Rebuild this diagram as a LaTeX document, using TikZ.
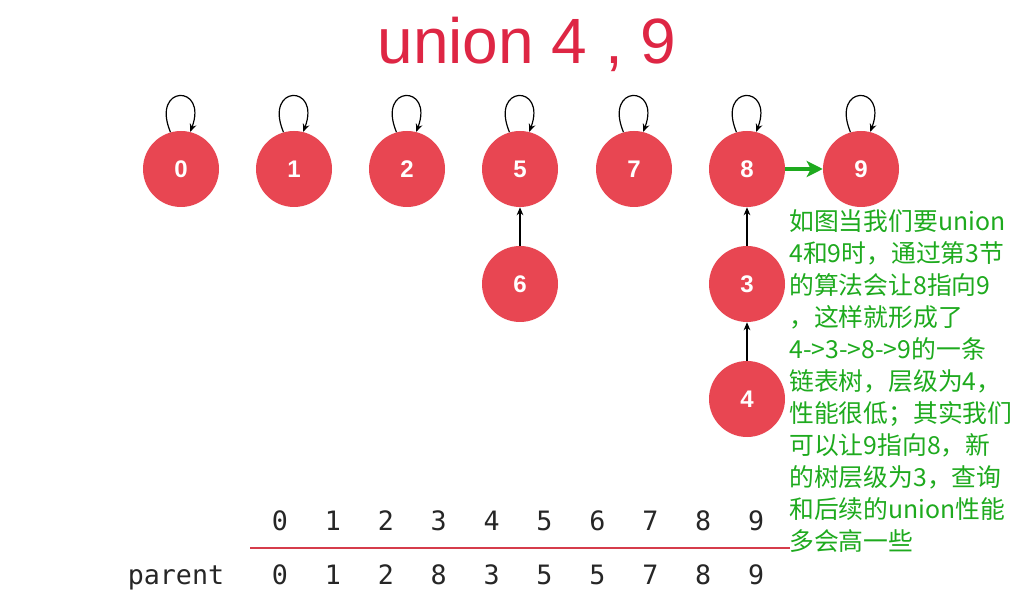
\documentclass[tikz,border=0pt]{standalone}
\usepackage{fontspec}
\setmainfont{Liberation Sans}
\newfontfamily\cjk{Noto Sans CJK SC}
\newfontfamily\monofam{DejaVu Sans Mono}
\usetikzlibrary{arrows.meta}
\definecolor{nodered}{RGB}{232,70,82}
\definecolor{titlered}{RGB}{222,38,68}
\definecolor{notegreen}{RGB}{30,170,30}
\definecolor{linered}{RGB}{214,60,75}
\begin{document}
\begin{tikzpicture}[x=0.75pt,y=-0.75pt,
  uf/.style={circle,fill=nodered,minimum size=57pt,inner sep=0pt,text=white,font=\fontsize{18}{18}\selectfont\bfseries},
  parentarrow/.style={-{Stealth[length=6pt,width=5pt]},line width=0.9pt,black},
  selfloop/.style={-{Stealth[length=6pt,width=5pt]},line width=0.9pt,black},
  unionarrow/.style={-{Stealth[length=12pt,width=12pt,inset=3pt]},line width=2.6pt,notegreen},
  cell/.style={font=\monofam\fontsize{20}{20}\selectfont,inner sep=0pt,text=black!85,anchor=base}]
\useasboundingbox[fill=white] (0,0) rectangle (1027,605);
% title
\node[text=titlered,font=\fontsize{48}{48}\selectfont] (title) at (527,44) {union 4 , 9};
% nodes
\node[uf] (n0) at (181,169) {0};
\node[uf] (n1) at (294,169) {1};
\node[uf] (n2) at (407,169) {2};
\node[uf] (n5) at (520,169) {5};
\node[uf] (n7) at (634,169) {7};
\node[uf] (n8) at (747,169) {8};
\node[uf] (n9) at (861,169) {9};
\node[uf] (n6) at (520,284) {6};
\node[uf] (n3) at (747,284) {3};
\node[uf] (n4) at (747,399) {4};
% self loops
\foreach \n in {n0,n1,n2,n5,n7,n8,n9}{
  \draw[selfloop] (\n.106) .. controls +(-20,-48) and +(18,-48) .. (\n.76);
}
% parent arrows
\draw[parentarrow] (n6) -- (n5);
\draw[parentarrow] (n3) -- (n8);
\draw[parentarrow] (n4) -- (n3);
\draw[unionarrow] (n8) -- (n9);
% note
\node[anchor=north west,align=left,inner sep=0pt,text=notegreen,font=\cjk\fontsize{18.6}{24}\selectfont] (note) at (789,209) {如图当我们要union\\4和9时，通过第3节\\的算法会让8指向9\\，这样就形成了\\4->3->8->9的一条\\链表树，层级为4，\\性能很低；其实我们\\可以让9指向8，新\\的树层级为3，查询\\和后续的union性能\\多会高一些};
% table
\foreach \v [count=\i from 0] in {0,1,2,3,4,5,6,7,8,9}{
  \node[cell] (h\i) at ({280+52.9*\i},530) {\v};
}
\foreach \v [count=\i from 0] in {0,1,2,8,3,5,5,7,8,9}{
  \node[cell] (p\i) at ({280+52.9*\i},584) {\v};
}
\node[cell] (plabel) at (176,584) {parent};
\draw[linered,line width=1.6pt] (250,548) -- (790,548);
\end{tikzpicture}
\end{document}
